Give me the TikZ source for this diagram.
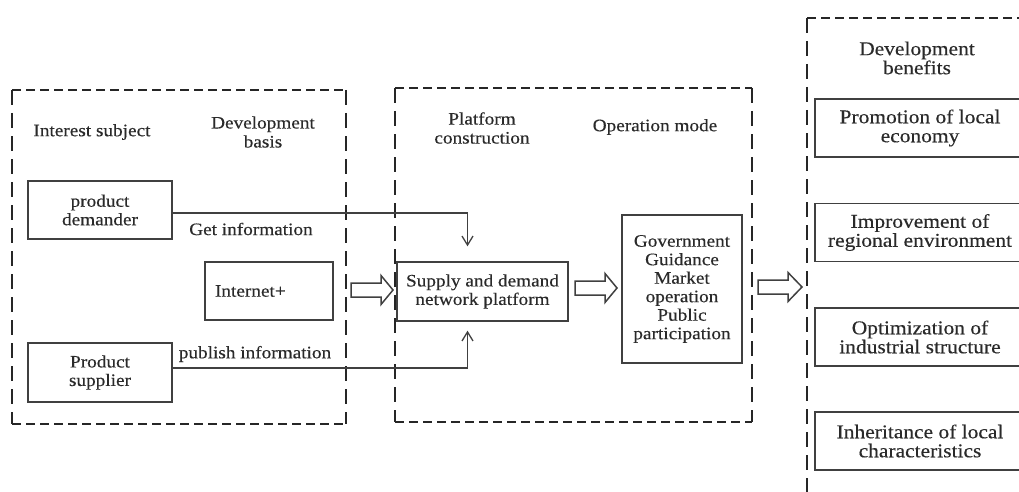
\documentclass[tikz,border=0pt]{standalone}
\usepackage{fontspec}
\setmainfont[FakeStretch=1.1,FakeBold=0.35]{Liberation Serif}
\usetikzlibrary{arrows.meta}
\definecolor{ink}{HTML}{2A2A2A}
\definecolor{lin}{HTML}{404040}
\tikzset{
  lbl/.style={text=ink, font=\fontsize{17.5}{19}\selectfont, align=center, inner sep=0pt},
  rlbl/.style={text=ink, font=\fontsize{19.5}{19}\selectfont, align=center, inner sep=0pt},
  box/.style={draw=lin, line width=1.4pt, text=ink, font=\fontsize{17.5}{18.5}\selectfont, align=center, inner sep=0pt},
  rbox/.style={draw=lin, line width=1.5pt, text=ink, font=\fontsize{19.5}{19}\selectfont, align=center, inner sep=0pt, minimum width=210pt, minimum height=58pt},
  hdash/.style={draw=black!85, line width=2.8pt, dash pattern=on 9pt off 5pt},
  vdash/.style={draw=black!85, line width=2.8pt, dash pattern=on 15pt off 8pt},
  conn/.style={draw=lin, line width=1.3pt, -{Straight Barb[length=9pt,width=11pt,line width=1.3pt]}},
  hollow/.style={draw=lin, line width=1.5pt, fill=white, line join=miter},
  harrow/.pic={\path[hollow] (0,-7) -- (30,-7) -- (30,-14.5) -- (#1,0) -- (30,14.5) -- (30,7) -- (0,7) -- cycle;},
}
\begin{document}
\begin{tikzpicture}[x=1pt,y=-1pt]
\useasboundingbox (0,0) rectangle (1019,492);
\begin{scope}
\clip (0,0) rectangle (1019,492);
% dashed frames
\coordinate (L1) at (12,90);  \coordinate (L2) at (346,424);
\coordinate (M1) at (395,88); \coordinate (M2) at (752,422);
\coordinate (R1) at (807,18); \coordinate (R2) at (1040,510);
\foreach \a/\b in {L1/L2, M1/M2, R1/R2}{
  \draw[hdash] (\a) -- (\a -| \b);
  \draw[hdash] (\a |- \b) -- (\b);
  \draw[vdash] (\a) -- (\a |- \b);
  \draw[vdash] (\a -| \b) -- (\b);
}
% headers
\node[lbl] (hint) at (92,132) {Interest subject};
\node[lbl] (hbas) at (263,132) {Development\\basis};
\node[lbl] (hpla) at (482,128) {Platform\\construction};
\node[lbl] (hope) at (655,127) {Operation mode};
\node[rlbl] (hben) at (917,58) {Development\\benefits};
% left boxes
\node[box, minimum width=144pt, minimum height=58pt] (dem) at (100,210) {product\\demander};
\node[box, minimum width=144pt, minimum height=59pt] (supl) at (100,372.5) {Product\\supplier};
\node[box, minimum width=128pt, minimum height=58pt, text width=108pt, align=left] (inet) at (269,291) {Internet+};
\node[lbl] (getinf) at (251,229) {Get information};
\node[lbl] (pubinf) at (255,354) {publish information};
% middle boxes
\node[box, minimum width=171pt, minimum height=59pt] (plat) at (482.5,291.5) {Supply and demand\\network platform};
\node[box, minimum width=120pt, minimum height=148pt] (gov) at (682,289) {Government\\Guidance\\Market\\operation\\Public\\participation};
% right boxes
\node[rbox] (b1) at (920,128) {Promotion of local\\economy};
\node[rbox] (b2) at (920,232.5) {Improvement of\\regional environment};
\node[rbox] (b3) at (920,337) {Optimization of\\industrial structure};
\node[rbox] (b4) at (920,441) {Inheritance of local\\characteristics};
% connectors
\draw[conn, shorten >=15pt] ([yshift=-3pt]dem.east) -| ([xshift=-15pt]plat.north);
\draw[conn, shorten >=9pt] ([yshift=4.5pt]supl.east) -| ([xshift=-15pt]plat.south);
% hollow arrows
\pic at (351,290) {harrow=42};
\pic at (575,288) {harrow=42};
\pic at (758,287) {harrow=44};
\end{scope}
\end{tikzpicture}
\end{document}
